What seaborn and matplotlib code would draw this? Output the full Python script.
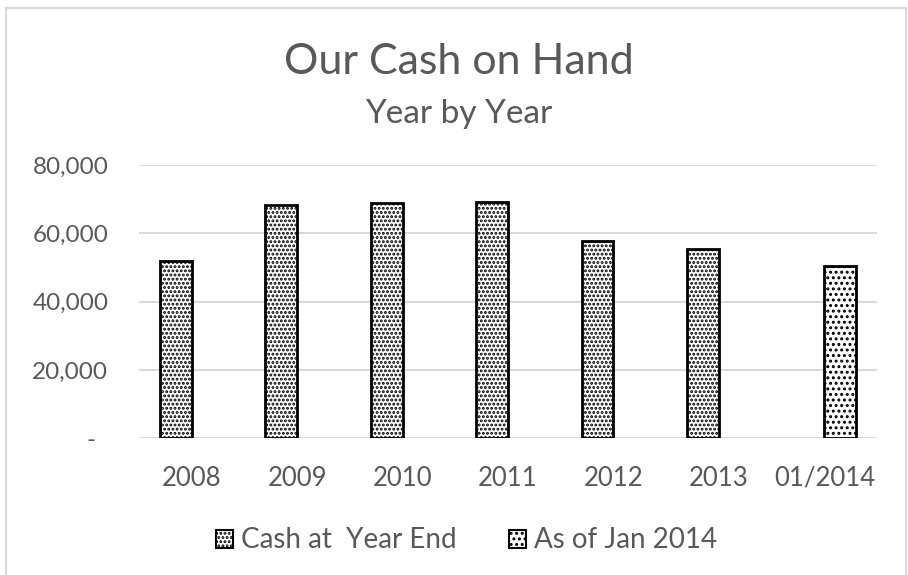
import pandas as pd
import numpy as np
import seaborn as sns
import matplotlib.pyplot as plt
from matplotlib.patches import Rectangle
from matplotlib.ticker import FuncFormatter

categories = ['2008', '2009', '2010', '2011', '2012', '2013', '01/2014']
series_names = ['Cash at  Year End', 'As of Jan 2014']
year_end_cash = [52000, 68200, 68900, 69300, 57700, 55300]
jan_2014_cash = [50400]
hatches = ['....', '...']

# long table for seaborn
rows = []
for cat, val in zip(categories[:6], year_end_cash):
    rows.append({'period': cat, 'cash': val, 'series': series_names[0]})
for cat, val in zip(categories[6:], jan_2014_cash):
    rows.append({'period': cat, 'cash': val, 'series': series_names[1]})
df = pd.DataFrame(rows)

sns.set_style('white')
plt.rcParams['font.family'] = ['Lato', 'DejaVu Sans']
plt.rcParams['hatch.linewidth'] = 1.4
text_color = '#595959'

fig = plt.figure(figsize=(9.08, 5.75), dpi=100)
ax = fig.add_axes([0.153, 0.238, 0.813, 0.475])

sns.barplot(data=df, x='period', y='cash', hue='series', order=categories,
            hue_order=series_names, width=0.6, dodge=True,
            palette=['white', 'white'], edgecolor='black', linewidth=2,
            ax=ax)

for cont, h in zip(ax.containers, hatches):
    for bar in cont:
        bar.set_hatch(h)

ax.set_ylim(0, 80000)
ax.set_xlim(-0.5, len(categories) - 0.5)
ax.set_yticks([0, 20000, 40000, 60000, 80000])
ax.yaxis.set_major_formatter(FuncFormatter(lambda v, p: '-  ' if v == 0 else f'{v:,.0f}'))
ax.grid(axis='y', color='#d9d9d9', linewidth=1.5)
ax.set_axisbelow(True)
for s in ax.spines.values():
    s.set_visible(False)
ax.tick_params(axis='both', length=0, colors=text_color)
ax.tick_params(axis='y', pad=22, labelsize=17.5)
ax.tick_params(axis='x', pad=20, labelsize=18.5)
ax.set_xlabel('')
ax.set_ylabel('')

fig.text(0.505, 0.893, 'Our Cash on Hand', ha='center', va='center',
         fontsize=31, color=text_color)
fig.text(0.505, 0.802, 'Year by Year', ha='center', va='center',
         fontsize=24, color=text_color)

handles, labels = ax.get_legend_handles_labels()
ax.legend_.remove()
leg = fig.legend(handles, labels, loc='center', bbox_to_anchor=(0.514, 0.06),
                 ncol=2, frameon=False, fontsize=20, labelcolor=text_color,
                 handlelength=0.6, handleheight=0.6, handletextpad=0.3,
                 columnspacing=1.9)
for p, h in zip(leg.get_patches(), hatches):
    p.set_hatch(h)
    p.set_edgecolor('black')
    p.set_linewidth(1.5)

fig.patches.append(Rectangle((6 / 908, -0.05), 900 / 908, 1.05 - 8 / 575,
                             transform=fig.transFigure, fill=False,
                             edgecolor='#d9d9d9', linewidth=1.5))

fig.savefig('out.png', dpi=100)
